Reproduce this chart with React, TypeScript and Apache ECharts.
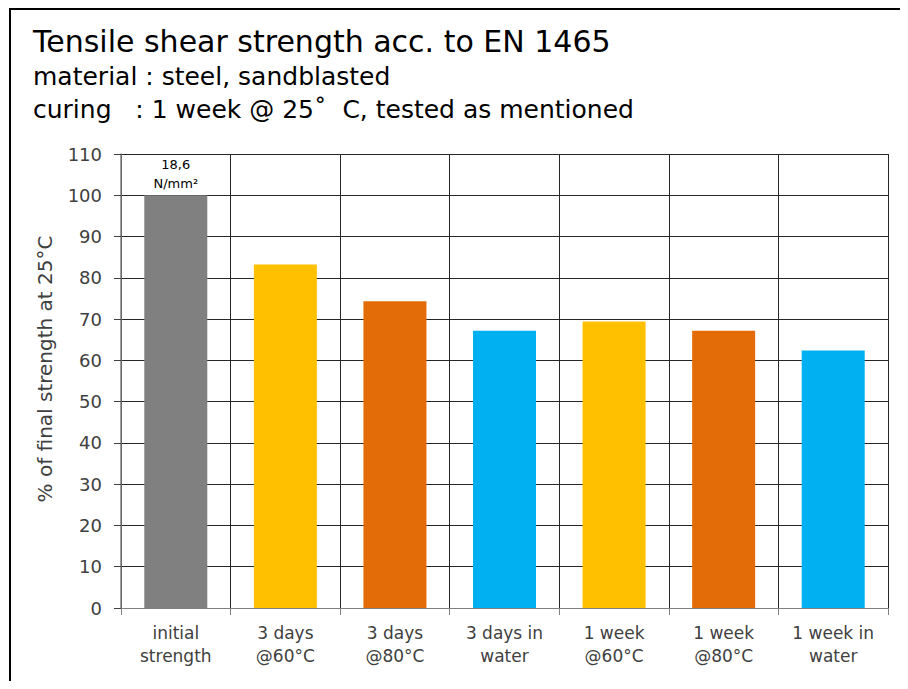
import React, { useEffect, useRef } from "react";
import * as echarts from "echarts";

const categories = [
  "initial\nstrength",
  "3 days\n@60°C",
  "3 days\n@80°C",
  "3 days in\nwater",
  "1 week\n@60°C",
  "1 week\n@80°C",
  "1 week in\nwater",
];
const values = [100, 83.2, 74.3, 67.2, 69.4, 67.2, 62.4];
const barColors = ["#808080", "#FFC000", "#E36C09", "#00B0F0", "#FFC000", "#E36C09", "#00B0F0"];
const barNotes = ["18,6\nN/mm²", "", "", "", "", "", ""];
const titleLines = [
  "Tensile shear strength acc. to EN 1465",
  "material : steel, sandblasted",
  "curing   : 1 week @ 25˚  C, tested as mentioned",
];
const yAxisName = "% of final strength at 25°C";

const FONT = "DejaVu Sans";

export default function App() {
  const ref = useRef<HTMLDivElement>(null);
  useEffect(() => {
    if (!ref.current) return;
    const chart = echarts.init(ref.current, null, { renderer: "svg" });
    chart.setOption({
      animation: false,
      backgroundColor: "#ffffff",
      title: [
        {
          text: titleLines[0],
          left: 28,
          top: 21,
          textStyle: { fontFamily: FONT, fontSize: 30, fontWeight: "normal", color: "#000" },
        },
        {
          text: titleLines[1],
          left: 28,
          top: 59,
          textStyle: { fontFamily: FONT, fontSize: 25, fontWeight: "normal", color: "#000" },
        },
        {
          text: titleLines[2],
          left: 28,
          top: 92,
          textStyle: { fontFamily: FONT, fontSize: 25, fontWeight: "normal", color: "#000" },
        },
      ],
      graphic: [
        {
          type: "rect",
          shape: { x: 10, y: 9, width: 1000, height: 1000 },
          style: { fill: "none", stroke: "#000", lineWidth: 2 },
          silent: true,
        },
      ],
      grid: { left: 121, right: 20, top: 154, bottom: 81, containLabel: false },
      xAxis: {
        type: "category",
        data: categories,
        axisLine: { show: true, lineStyle: { color: "#808080", width: 1 } },
        axisTick: { show: true, length: 7, lineStyle: { color: "#808080" } },
        splitLine: { show: true, lineStyle: { color: "#262626", width: 1 } },
        axisLabel: {
          fontFamily: FONT,
          fontSize: 17,
          color: "#404040",
          lineHeight: 23,
          margin: 13,
          interval: 0,
        },
      },
      yAxis: {
        type: "value",
        min: 0,
        max: 110,
        interval: 10,
        name: yAxisName,
        nameLocation: "middle",
        nameGap: 66,
        nameTextStyle: { fontFamily: FONT, fontSize: 20, color: "#404040", padding: [0, 0, 0, 24] },
        axisLine: { show: true, lineStyle: { color: "#808080", width: 1.5 } },
        axisTick: { show: true, length: 7, lineStyle: { color: "#404040" } },
        splitLine: { show: true, lineStyle: { color: "#262626", width: 1 } },
        axisLabel: { fontFamily: FONT, fontSize: 18, color: "#404040", margin: 19 },
      },
      series: [
        {
          type: "bar",
          barWidth: "57.5%",
          data: values.map((v, i) => ({
            value: v,
            itemStyle: { color: barColors[i] },
            label: {
              show: barNotes[i] !== "",
              position: "top",
              formatter: barNotes[i],
              fontFamily: FONT,
              fontSize: 13,
              lineHeight: 19,
              color: "#000",
              distance: 2,
            },
          })),
        },
      ],
    });
    return () => chart.dispose();
  }, []);
  return <div ref={ref} style={{ width: 908, height: 689, margin: -8 }} />;
}
